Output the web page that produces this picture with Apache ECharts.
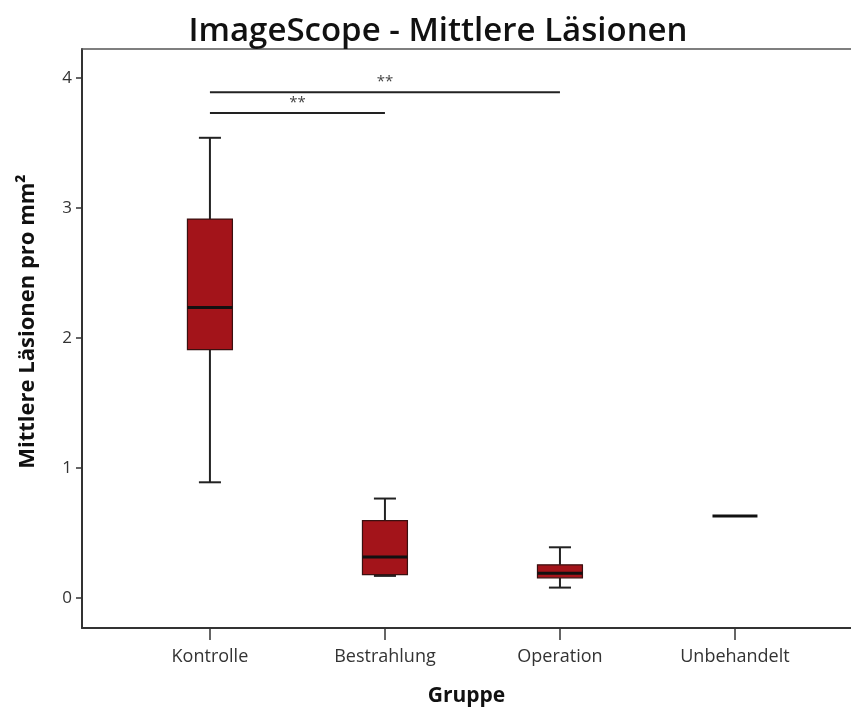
<!DOCTYPE html>
<html>
<head>
<meta charset="utf-8">
<script src="https://cdn.jsdelivr.net/npm/echarts@6/dist/echarts.min.js"></script>
<style>
html,body{margin:0;padding:0;background:#fff;}
#main{width:851px;height:713px;}
</style>
</head>
<body>
<div id="main"></div>
<script>
// ---- data ----
var categories = ['Kontrolle', 'Bestrahlung', 'Operation', 'Unbehandelt'];
var minVals    = [0.89, 0.17, 0.08, 0.63];
var q1Vals     = [1.91, 0.18, 0.155, 0.63];
var medianVals = [2.235, 0.315, 0.19, 0.63];
var q3Vals     = [2.915, 0.595, 0.255, 0.63];
var maxVals    = [3.54, 0.765, 0.39, 0.63];
var yTicks = [0, 1, 2, 3, 4];
var sigFrom   = [0, 0];
var sigTo     = [1, 2];
var sigLevel  = [3.73, 3.89];
var sigLabels = ['**', '**'];

var catPositions = categories.map(function (c, i) { return i; });
var boxData = categories.map(function (c, i) {
  return [i, minVals[i], q1Vals[i], medianVals[i], q3Vals[i], maxVals[i]];
});
var sigData = sigFrom.map(function (f, i) { return [f, sigTo[i], sigLevel[i]]; });

var chart = echarts.init(document.getElementById('main'), null, {renderer: 'canvas'});
var axisColor = '#333';
var option = {
  backgroundColor: '#fff',
  animation: false,
  title: {
    text: 'ImageScope - Mittlere Läsionen',
    left: 433, textAlign: 'center', top: 10,
    textStyle: {fontFamily: 'Open Sans', fontSize: 33, fontWeight: 600, color: '#111'}
  },
  grid: {left: 82, right: 0, top: 49, bottom: 85},
  xAxis: [{
    type: 'value', min: -0.731, max: 3.663,
    splitLine: {show: false},
    axisLine: {show: true, onZero: false, lineStyle: {color: axisColor, width: 2}},
    axisTick: {show: true, customValues: catPositions, length: 12, lineStyle: {color: axisColor, width: 1.5}},
    axisLabel: {
      customValues: catPositions, margin: 20, color: '#333',
      fontFamily: 'Open Sans', fontSize: 18,
      formatter: function (v) { return categories[Math.round(v)]; }
    },
    name: 'Gruppe', nameLocation: 'middle', nameGap: 58,
    nameTextStyle: {fontFamily: 'Open Sans', fontSize: 21, fontWeight: 'bold', color: '#111'}
  }, {
    type: 'value', position: 'top', min: -0.731, max: 3.663,
    splitLine: {show: false},
    axisLine: {show: true, onZero: false, lineStyle: {color: '#555', width: 1.5}},
    axisTick: {show: false}, axisLabel: {show: false}
  }],
  yAxis: {
    type: 'value', min: -0.2308, max: 4.223,
    splitLine: {show: false},
    axisLine: {show: true, onZero: false, lineStyle: {color: axisColor, width: 2}},
    axisTick: {show: true, customValues: yTicks, length: 6, lineStyle: {color: axisColor, width: 1.5}},
    axisLabel: {customValues: yTicks, margin: 10, color: '#333', fontFamily: 'Open Sans', fontSize: 17},
    name: 'Mittlere Läsionen pro mm²', nameLocation: 'middle', nameGap: 43,
    nameTextStyle: {fontFamily: 'Open Sans', fontSize: 22, fontWeight: 'bold', color: '#111', padding: [0, 0, 0, 34]}
  },
  series: [{
    type: 'custom',
    xAxisIndex: 0,
    data: boxData,
    renderItem: function (params, api) {
      var x = api.value(0);
      var band = api.size([1, 0])[0];
      var halfBox = band * 0.257 / 2;
      var halfCap = band * 0.126 / 2;
      var pMin = api.coord([x, api.value(1)]);
      var pQ1 = api.coord([x, api.value(2)]);
      var pMed = api.coord([x, api.value(3)]);
      var pQ3 = api.coord([x, api.value(4)]);
      var pMax = api.coord([x, api.value(5)]);
      var cx = pMed[0];
      var lineStyle = {stroke: '#222', lineWidth: 2};
      var children = [];
      if (pQ3[1] - pMax[1] > 0.5) {
        children.push({type: 'line', shape: {x1: cx, y1: pMax[1], x2: cx, y2: pQ3[1]}, style: lineStyle});
        children.push({type: 'line', shape: {x1: cx - halfCap, y1: pMax[1], x2: cx + halfCap, y2: pMax[1]}, style: lineStyle});
      }
      if (pMin[1] - pQ1[1] > 0.5) {
        children.push({type: 'line', shape: {x1: cx, y1: pQ1[1], x2: cx, y2: pMin[1]}, style: lineStyle});
        children.push({type: 'line', shape: {x1: cx - halfCap, y1: pMin[1], x2: cx + halfCap, y2: pMin[1]}, style: lineStyle});
      } else if (pMin[1] !== pQ1[1]) {
        children.push({type: 'line', shape: {x1: cx - halfCap, y1: pMin[1], x2: cx + halfCap, y2: pMin[1]}, style: lineStyle});
      }
      if (pQ1[1] - pQ3[1] > 0.5) {
        children.push({type: 'rect', shape: {x: cx - halfBox, y: pQ3[1], width: halfBox * 2, height: pQ1[1] - pQ3[1]},
          style: {fill: '#a3141a', stroke: '#3a1010', lineWidth: 1.2}});
      }
      children.push({type: 'line', shape: {x1: cx - halfBox, y1: pMed[1], x2: cx + halfBox, y2: pMed[1]},
        style: {stroke: '#111', lineWidth: 3}});
      return {type: 'group', children: children};
    }
  }, {
    type: 'custom',
    xAxisIndex: 0,
    data: sigData,
    renderItem: function (params, api) {
      var p1 = api.coord([api.value(0), api.value(2)]);
      var p2 = api.coord([api.value(1), api.value(2)]);
      return {type: 'group', children: [
        {type: 'line', shape: {x1: p1[0], y1: p1[1], x2: p2[0], y2: p2[1]}, style: {stroke: '#222', lineWidth: 2}},
        {type: 'text', x: (p1[0] + p2[0]) / 2, y: p1[1] - 3,
          style: {text: sigLabels[params.dataIndex], textAlign: 'center', textVerticalAlign: 'bottom',
            fontFamily: 'Open Sans', fontSize: 15, fill: '#444'}}
      ]};
    }
  }]
};
chart.setOption(option);
</script>
</body>
</html>
